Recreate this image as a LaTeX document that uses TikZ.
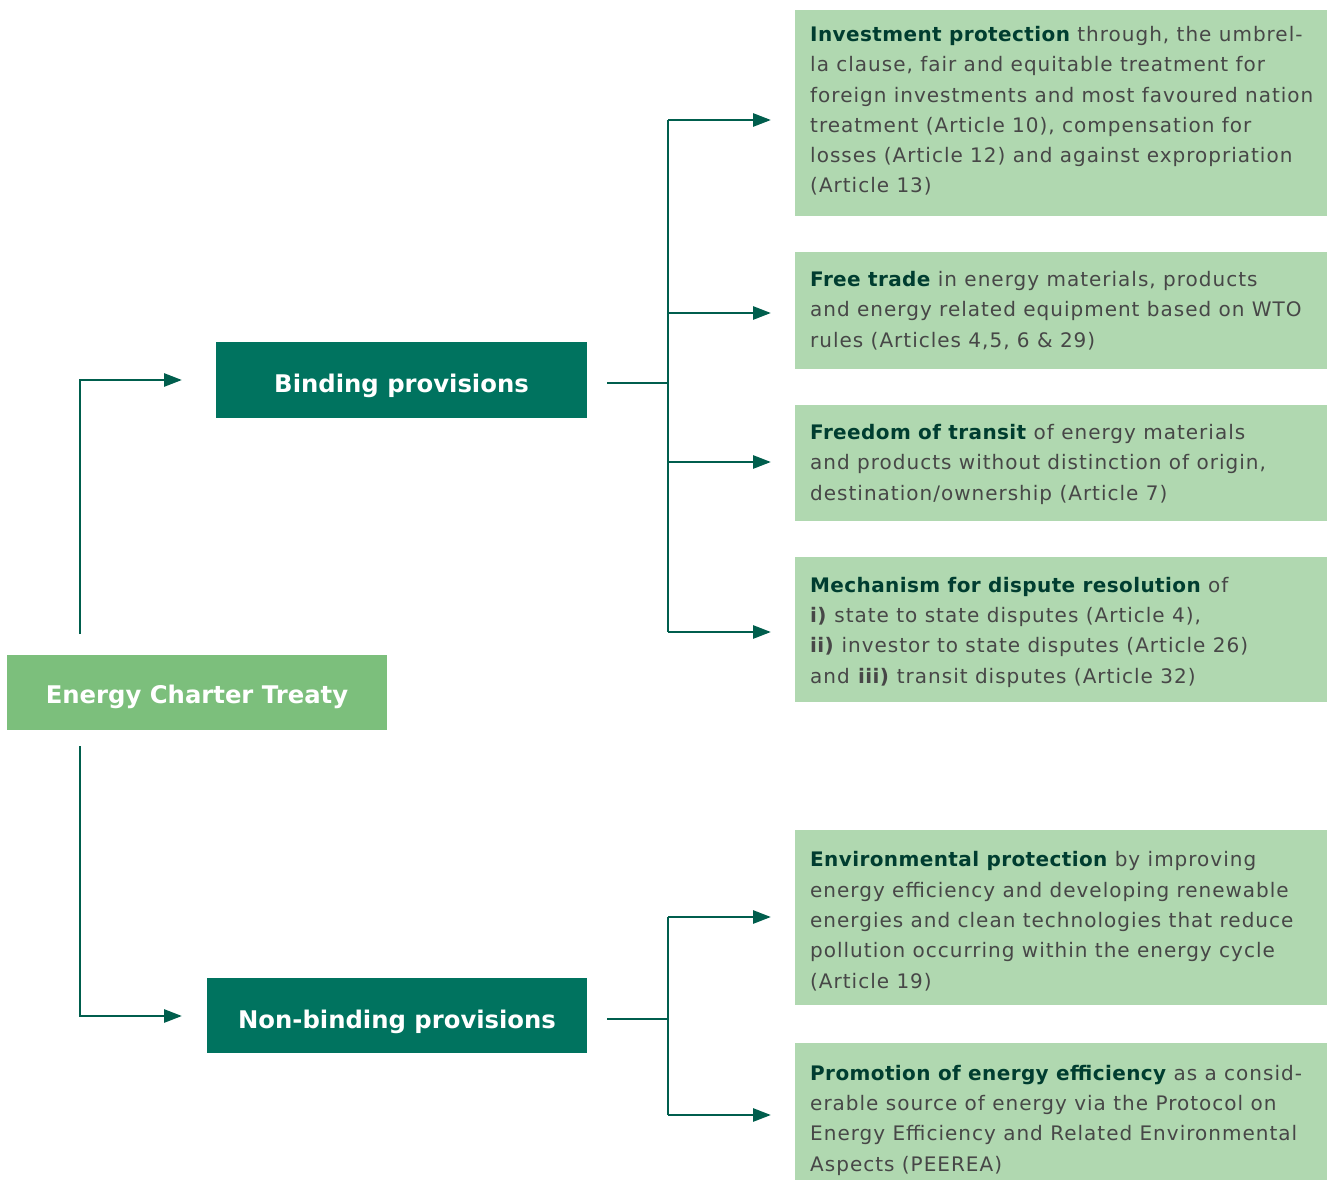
\documentclass[tikz,border=0pt]{standalone}
\usepackage{fontspec}
\setmainfont{DejaVu Sans}
\newfontfamily\panelfont[LetterSpace=5,BoldFeatures={LetterSpace=2}]{DejaVu Sans}
\usetikzlibrary{arrows.meta}
\definecolor{ectgreen}{HTML}{7CBF7C}
\definecolor{teal}{HTML}{00735F}
\definecolor{pale}{HTML}{B0D8B0}
\definecolor{conncol}{HTML}{005E4D}
\definecolor{boldtxt}{HTML}{003D30}
\definecolor{bodytxt}{HTML}{474747}
\newcommand{\kw}[1]{\textbf{\color{boldtxt}#1}}
\newcommand{\nb}[1]{\textbf{#1}}
\tikzset{
  headbox/.style={fill=teal, text=white, font=\fontsize{24.3}{28}\selectfont\bfseries, inner sep=0pt, text height=25pt, text depth=0pt},
  ectbox/.style={fill=ectgreen, text=white, font=\fontsize{24.3}{28}\selectfont\bfseries, inner sep=0pt, text height=23pt, text depth=0pt},
  panel/.style={fill=pale, draw=none},
  paneltext/.style={anchor=base west, align=left, inner sep=0pt, text=bodytxt, font=\panelfont\fontsize{20}{30.3}\selectfont},
  conn/.style={draw=conncol, line width=2.8pt},
  arr/.style={conn, -{Triangle[length=18pt,width=13pt]}},
}
\begin{document}
\begin{tikzpicture}[x=1pt,y=-1pt]
\useasboundingbox (0,0) rectangle (1328,1180);
% main boxes
\node[ectbox, minimum width=380pt, minimum height=75pt] (ect) at (197,692) {Energy Charter Treaty};
\node[headbox, minimum width=371pt, minimum height=76pt] (bin) at (401.5,379.7) {Binding provisions};
\node[headbox, minimum width=380pt, minimum height=75pt] (nonbin) at (397,1015.8) {Non-binding provisions};
% right panels
\path[panel] (795,10) rectangle (1327,216);
\path[panel] (795,252) rectangle (1327,369);
\path[panel] (795,405) rectangle (1327,521);
\path[panel] (795,557) rectangle (1327,702);
\path[panel] (795,830) rectangle (1327,1005);
\path[panel] (795,1043) rectangle (1327,1180);
\node[paneltext] (t1) at (810,193) {\kw{Investment protection} through, the umbrel-\\la clause, fair and equitable treatment for\\foreign investments and most favoured nation\\treatment (Article 10), compensation for\\losses (Article 12) and against expropriation\\(Article 13)};
\node[paneltext] (t2) at (810,347) {\kw{Free trade} in energy materials, products\\and energy related equipment based on WTO\\rules (Articles 4,5, 6 \& 29)};
\node[paneltext] (t3) at (810,500) {\kw{Freedom of transit} of energy materials\\and products without distinction of origin,\\destination/ownership (Article 7)};
\node[paneltext] (t4) at (810,683) {\kw{Mechanism for dispute resolution} of\\\nb{i)} state to state disputes (Article 4),\\\nb{ii)} investor to state disputes (Article 26)\\and \nb{iii)} transit disputes (Article 32)};
\node[paneltext] (t5) at (810,988) {\kw{Environmental protection} by improving\\energy efficiency and developing renewable\\energies and clean technologies that reduce\\pollution occurring within the energy cycle\\(Article 19)};
\node[paneltext] (t6) at (810,1171) {\kw{Promotion of energy efficiency} as a consid-\\erable source of energy via the Protocol on\\Energy Efficiency and Related Environmental\\Aspects (PEEREA)};
% coordinates
\coordinate (ectup) at (80,634);
\coordinate (ectdn) at (80,746);
\coordinate (binin) at (182,380);
\coordinate (nbin) at (182,1016);
\coordinate (binout) at (607,383);
\coordinate (binbus) at (668,383);
\coordinate (bt1) at (668,120);
\coordinate (bt4) at (668,632);
\coordinate (a1) at (771,120);
\coordinate (a2) at (771,313);
\coordinate (a3) at (771,462);
\coordinate (a4) at (771,632);
\coordinate (nbout) at (607,1019);
\coordinate (nbbus) at (668,1019);
\coordinate (nt1) at (668,917);
\coordinate (nt2) at (668,1115);
\coordinate (a5) at (771,917);
\coordinate (a6) at (771,1115);
% connectors
\draw[arr] (ectup) |- (binin);
\draw[arr] (ectdn) |- (nbin);
\draw[conn] (binout) -- (binbus);
\draw[conn] (bt1) -- (bt4);
\draw[arr] (bt1) -- (a1);
\draw[arr] (bt1 |- a2) -- (a2);
\draw[arr] (bt1 |- a3) -- (a3);
\draw[arr] (bt4) -- (a4);
\draw[conn] (nbout) -- (nbbus);
\draw[conn] (nt1) -- (nt2);
\draw[arr] (nt1) -- (a5);
\draw[arr] (nt2) -- (a6);
\end{tikzpicture}
\end{document}
